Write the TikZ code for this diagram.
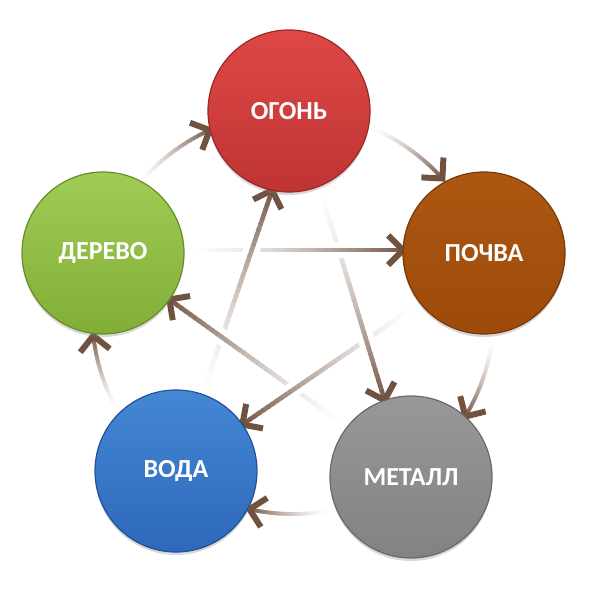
\documentclass[tikz,border=0pt]{standalone}
\usepackage{fontspec}
\setmainfont{Carlito}
\usetikzlibrary{calc,shadows}
\pgfdeclarelayer{bg}
\pgfsetlayers{bg,main}
\definecolor{abrown}{RGB}{112,82,64}
\definecolor{ogonT}{RGB}{222,72,70}\definecolor{ogonB}{RGB}{190,52,52}\definecolor{ogonD}{RGB}{160,38,38}
\definecolor{pochT}{RGB}{172,88,18}\definecolor{pochB}{RGB}{157,74,10}\definecolor{pochD}{RGB}{120,56,8}
\definecolor{metT}{RGB}{152,152,152}\definecolor{metB}{RGB}{130,130,130}\definecolor{metD}{RGB}{105,105,105}
\definecolor{vodT}{RGB}{68,135,212}\definecolor{vodB}{RGB}{46,104,186}\definecolor{vodD}{RGB}{32,82,155}
\definecolor{derT}{RGB}{160,204,86}\definecolor{derB}{RGB}{130,174,56}\definecolor{derD}{RGB}{102,142,40}
\tikzset{
  elem/.style={circle, minimum size=162, inner sep=0, outer sep=0, line width=1.2,
    font=\fontsize{26}{30}\selectfont\bfseries, text=white,
    drop shadow={shadow xshift=0pt, shadow yshift=-3pt, opacity=0.3}},
  halo/.style={line width=16, white, line cap=butt},
  shaft/.style={line width=4.5, line cap=butt},
  arcshaft/.style={line width=3.8, line cap=butt},
  headst/.style={line width=6, abrown, line cap=butt, line join=miter}
}
\newcommand\fadeline[4]{%
  \pgfmathsetmacro\tha{#3/40}\pgfmathsetmacro\thb{#4/40}%
  \draw[halo] ($(#1)!\tha!(#2)$) -- ($(#1)!\thb!(#2)$);
  \pgfmathtruncatemacro\kend{#4-1}%
  \foreach \k in {#3,...,\kend}{%
    \pgfmathsetmacro\ta{\k/40}%
    \pgfmathsetmacro\tb{min(\k+1.5,#4)/40}%
    \pgfmathtruncatemacro\pc{100*(\k/40)^1.5}%
    \draw[shaft, color=abrown!\pc!white] ($(#1)!\ta!(#2)$) -- ($(#1)!\tb!(#2)$);
  }%
}
\newcommand\headat[2]{%
  \draw[headst] let \p1=($(#2)-(#1)$), \n1={atan2(\y1,\x1)} in
    ($(#2)+(\n1+135:21)$) -- (#2) -- ($(#2)+(\n1-135:21)$);
}
\newcommand\fadearc[2]{%
  \foreach \k in {0,...,39}{%
    \pgfmathsetmacro\aa{#1+(#2-#1)*\k/40}%
    \pgfmathsetmacro\ab{#1+(#2-#1)*min(\k+1.5,40)/40}%
    \pgfmathtruncatemacro\pc{100*(\k/40)^1.5}%
    \draw[arcshaft, color=abrown!\pc!white] ($(C)+(\aa:201)$) arc[start angle=\aa, end angle=\ab, radius=201];
  }%
  \draw[headst] ($(C)+(#2:201)+(#2+45:21)$) -- ($(C)+(#2:201)$) -- ($(C)+(#2:201)+(#2+135:21)$);
}
\begin{document}
\begin{tikzpicture}[x=1pt,y=1pt]
\useasboundingbox (0,0) rectangle (600,600);
\coordinate (C) at (293,287);
\node[elem, top color=ogonT, bottom color=ogonB, draw=ogonD] (ogon) at (289,489) {ОГОНЬ};
\node[elem, top color=pochT, bottom color=pochB, draw=pochD] (pochva) at (484,347) {ПОЧВА};
\node[elem, top color=metT, bottom color=metB, draw=metD] (metall) at (411,123) {МЕТАЛЛ};
\node[elem, top color=vodT, bottom color=vodB, draw=vodD] (voda) at (176,129) {ВОДА};
\node[elem, top color=derT, bottom color=derB, draw=derD] (derevo) at (103,347) {ДЕРЕВО};
\begin{pgfonlayer}{bg}
  % outer cycle
  \fadearc{140}{114.5}
  \fadearc{68}{42}
  \fadearc{-7}{-31}
  \fadearc{-79}{-102.5}
  \fadearc{-151}{-173.5}
  % inner star, woven
  \fadeline{voda.71}{ogon.258}{0}{40}\headat{voda.71}{ogon.258}
  \fadeline{metall.142}{derevo.325}{0}{40}\headat{metall.142}{derevo.325}
  \fadeline{pochva.218}{voda.35}{0}{40}\headat{pochva.218}{voda.35}
  \fadeline{ogon.292}{metall.109}{0}{40}\headat{ogon.292}{metall.109}
  \fadeline{derevo.2}{pochva.178}{0}{40}\headat{derevo.2}{pochva.178}
  \fadeline{voda.71}{ogon.258}{24}{33}
\end{pgfonlayer}
\end{tikzpicture}
\end{document}
